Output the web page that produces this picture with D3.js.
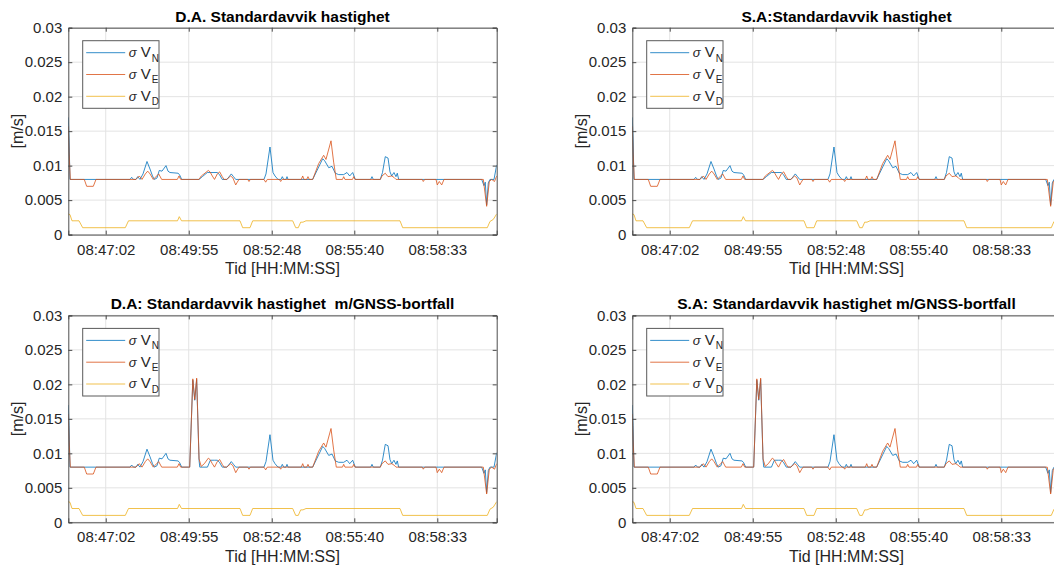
<!DOCTYPE html>
<html>
<head>
<meta charset="utf-8">
<script src="https://cdn.jsdelivr.net/npm/d3@7"></script>
<style>
  body { margin: 0; background: #fff; }
  text { font-family: "Liberation Sans", Arial, Helvetica, sans-serif; }
</style>
</head>
<body>
<div id="chart"></div>
<script>
// time axis: seconds after 08:45:44
const startClock = "08:45:44";
const endSeconds = 892.8;
const xTickLabels = ["08:47:02", "08:49:55", "08:52:48", "08:55:40", "08:58:33"];
const yTicks = [0, 0.005, 0.01, 0.015, 0.02, 0.025, 0.03];
const yTickLabels = ["0", "0.005", "0.01", "0.015", "0.02", "0.025", "0.03"];
const seriesNames = ["N", "E", "D"];

// sigma V_N [s, m/s]
const sigmaVN = [
  [0, 0.0170], [1.5, 0.0140], [3.5, 0.0080], [128.6, 0.0080], [132.1, 0.0083], [135.9, 0.0080],
  [141.1, 0.0080], [144.6, 0.0084], [149.4, 0.0080], [155.7, 0.0088], [164.0, 0.0106], [170.3, 0.0095],
  [175.5, 0.0085], [179.2, 0.0080], [184.8, 0.0082], [189.6, 0.0093], [195.3, 0.0092], [203.6, 0.0100],
  [207.8, 0.0092], [211.9, 0.0090], [228.6, 0.0089], [231.7, 0.0087], [236.3, 0.0080], [272.4, 0.0080],
  [279.3, 0.0084], [289.7, 0.0090], [310.5, 0.0090], [315.1, 0.0087], [320.9, 0.0080], [330.7, 0.0080],
  [339.7, 0.0088], [344.3, 0.0084], [348.9, 0.0080], [407.8, 0.0080], [412.0, 0.0088], [420.3, 0.0127],
  [426.6, 0.0090], [430.8, 0.0085], [437.0, 0.0080], [443.3, 0.0080], [446.0, 0.0084], [448.9, 0.0080],
  [453.7, 0.0080], [455.8, 0.0084], [457.8, 0.0080], [509.3, 0.0080], [521.8, 0.0098], [530.2, 0.0110],
  [534.3, 0.0107], [542.7, 0.0097], [549.6, 0.0099], [556.4, 0.0089], [563.5, 0.0087], [573.9, 0.0087],
  [580.8, 0.0090], [586.4, 0.0085], [592.7, 0.0090], [598.1, 0.0080], [630.2, 0.0080], [632.9, 0.0084],
  [635.6, 0.0080], [650.2, 0.0080], [654.8, 0.0090], [660.6, 0.0113], [666.3, 0.0111], [670.4, 0.0091],
  [674.0, 0.0085], [678.7, 0.0090], [682.9, 0.0084], [685.6, 0.0089], [688.5, 0.0080], [861.5, 0.0080],
  [866.3, 0.0071], [869.0, 0.0076], [871.9, 0.0043], [875.3, 0.0075], [878.8, 0.0080], [887.2, 0.0080],
  [892.8, 0.0101]
];

// sigma V_E
const sigmaVE = [
  [0, 0.0157], [1.5, 0.0120], [4.2, 0.0080], [33.3, 0.0080], [38.3, 0.0070], [52.1, 0.0070],
  [57.7, 0.0080], [141.1, 0.0080], [148.0, 0.0085], [153.6, 0.0080], [160.5, 0.0088], [165.5, 0.0092],
  [170.3, 0.0088], [177.1, 0.0080], [184.2, 0.0085], [188.4, 0.0088], [194.6, 0.0080], [227.2, 0.0080],
  [230.7, 0.0085], [234.2, 0.0080], [272.4, 0.0080], [277.2, 0.0085], [282.8, 0.0088], [291.8, 0.0093],
  [295.3, 0.0091], [300.1, 0.0085], [304.7, 0.0080], [310.5, 0.0088], [315.5, 0.0091], [320.9, 0.0084],
  [324.5, 0.0080], [330.1, 0.0080], [338.4, 0.0085], [343.2, 0.0082], [348.9, 0.0072], [352.2, 0.0076],
  [355.7, 0.0080], [373.9, 0.0080], [376.6, 0.0077], [379.3, 0.0080], [407.8, 0.0080], [411.3, 0.0076],
  [414.7, 0.0080], [439.7, 0.0080], [442.6, 0.0077], [445.3, 0.0080], [485.6, 0.0080], [488.5, 0.0085],
  [491.2, 0.0080], [496.9, 0.0080], [499.5, 0.0084], [502.2, 0.0080], [509.3, 0.0080], [521.8, 0.0103],
  [532.2, 0.0115], [537.0, 0.0109], [547.5, 0.0136], [553.0, 0.0105], [558.5, 0.0080], [571.4, 0.0080],
  [573.9, 0.0084], [576.6, 0.0080], [592.3, 0.0080], [594.8, 0.0084], [597.5, 0.0080], [650.2, 0.0080],
  [653.7, 0.0085], [660.6, 0.0089], [666.3, 0.0084], [674.0, 0.0085], [678.7, 0.0083], [682.9, 0.0080],
  [737.7, 0.0080], [739.8, 0.0077], [742.7, 0.0080], [766.3, 0.0080], [769.0, 0.0072], [773.2, 0.0077],
  [778.2, 0.0072], [783.0, 0.0080], [864.9, 0.0080], [871.9, 0.0041], [877.4, 0.0077], [882.4, 0.0080],
  [888.2, 0.0077], [892.8, 0.0085]
];

// sigma V_D
const sigmaVD = [
  [0, 0.0030], [3.5, 0.0029], [7.7, 0.0020], [22.3, 0.0020], [30.0, 0.0010], [118.8, 0.0010],
  [125.5, 0.0020], [227.6, 0.0020], [231.3, 0.0026], [235.9, 0.0020], [357.8, 0.0020], [363.4, 0.0010],
  [378.7, 0.0010], [384.3, 0.0020], [467.6, 0.0020], [473.9, 0.0010], [479.3, 0.0010], [484.3, 0.0018],
  [489.1, 0.0018], [495.4, 0.0020], [691.3, 0.0020], [696.9, 0.0010], [873.2, 0.0010], [878.8, 0.0019],
  [885.7, 0.0022], [892.8, 0.0030]
];

// GNSS outage segment (replaces the same time span in the runs above)
const outageVN = [
  [251, 0.0080], [253, 0.0080], [259.5, 0.0206], [263.5, 0.0177], [267.5, 0.0207], [272.5, 0.0090],
  [274, 0.0080], [290, 0.0080], [296, 0.0090], [305, 0.0090]
];
const outageVE = [
  [251, 0.0080], [253, 0.0080], [259.5, 0.0208], [263.5, 0.0178], [267.5, 0.0209], [272.5, 0.0092],
  [277, 0.0081], [283.5, 0.0085], [291.8, 0.0093]
];

const colors = ["#0072BD", "#D95319", "#EDB120"];

function withOutage(base, gap) {
  const a = gap[0][0], b = gap[gap.length - 1][0];
  return base.filter(d => d[0] < a || d[0] > b).concat(gap).sort((p, q) => p[0] - q[0]);
}

const toSec = s => { const p = s.split(":").map(Number); return p[0] * 3600 + p[1] * 60 + p[2]; };
const t0 = toSec(startClock);

const W = 1054, H = 568;
const pw = 428.4, ph = 206.9;
const panels = [
  {title: "D.A. Standardavvik hastighet", x: 68.3, y: 27.7, data: [sigmaVN, sigmaVE, sigmaVD]},
  {title: "S.A:Standardavvik hastighet", x: 632.3, y: 27.7, data: [sigmaVN, sigmaVE, sigmaVD]},
  {title: "D.A: Standardavvik hastighet  m/GNSS-bortfall", x: 68.3, y: 315.4,
    data: [withOutage(sigmaVN, outageVN), withOutage(sigmaVE, outageVE), sigmaVD]},
  {title: "S.A: Standardavvik hastighet m/GNSS-bortfall", x: 632.3, y: 315.4,
    data: [withOutage(sigmaVN, outageVN), withOutage(sigmaVE, outageVE), sigmaVD]}
];

const svg = d3.select("#chart").append("svg")
  .attr("width", W).attr("height", H)
  .style("display", "block");

const x = d3.scaleLinear().domain([0, endSeconds]).range([0, pw]);
const y = d3.scaleLinear().domain([0, 0.03]).range([ph, 0]);
const xTickVals = xTickLabels.map(s => toSec(s) - t0);

const line = d3.line().x(d => x(d[0])).y(d => y(d[1]));

panels.forEach((p, pi) => {
  const g = svg.append("g").attr("transform", `translate(${p.x},${p.y})`);

  g.append("rect").attr("width", pw).attr("height", ph).attr("fill", "#fff");

  // grid
  g.append("g").selectAll("line").data(xTickVals).join("line")
    .attr("x1", d => x(d)).attr("x2", d => x(d)).attr("y1", 0).attr("y2", ph)
    .attr("stroke", "#e3e3e3").attr("stroke-width", 1);
  g.append("g").selectAll("line").data(yTicks).join("line")
    .attr("y1", d => y(d)).attr("y2", d => y(d)).attr("x1", 0).attr("x2", pw)
    .attr("stroke", "#e3e3e3").attr("stroke-width", 1);

  // series
  g.append("clipPath").attr("id", "clip" + pi)
    .append("rect").attr("width", pw).attr("height", ph);
  const lines = g.append("g").attr("clip-path", `url(#clip${pi})`);
  p.data.forEach((s, i) => {
    lines.append("path").datum(s)
      .attr("d", line)
      .attr("fill", "none")
      .attr("stroke", colors[i])
      .attr("stroke-opacity", 0.8)
      .attr("stroke-width", 1)
      .attr("stroke-linejoin", "round");
  });

  // axes, ticks pointing inward
  const axisColor = "#4d4d4d";
  const bottom = g.append("g").attr("transform", `translate(0,${ph})`)
    .call(d3.axisBottom(x).tickValues(xTickVals).tickFormat((d, i) => xTickLabels[i])
      .tickSize(-4).tickPadding(9.5));
  const left = g.append("g")
    .call(d3.axisLeft(y).tickValues(yTicks).tickFormat((d, i) => yTickLabels[i])
      .tickSize(-4).tickPadding(6));
  const top = g.append("g")
    .call(d3.axisTop(x).tickValues(xTickVals).tickFormat("").tickSize(-4));
  const right = g.append("g").attr("transform", `translate(${pw},0)`)
    .call(d3.axisRight(y).tickValues(yTicks).tickFormat("").tickSize(-4));
  [bottom, left, top, right].forEach(a => {
    a.attr("font-size", null).attr("font-family", null);
    a.select(".domain").attr("stroke", axisColor);
    a.selectAll(".tick line").attr("stroke", axisColor);
    a.selectAll("text").attr("fill", "#262626").style("font-size", "15px");
  });

  // labels
  g.append("text")
    .attr("x", pw / 2).attr("y", -6)
    .attr("text-anchor", "middle")
    .style("font-size", "15.5px").style("font-weight", "bold")
    .style("white-space", "pre")
    .attr("fill", "#000")
    .text(p.title);
  g.append("text")
    .attr("x", pw / 2).attr("y", ph + 39.5)
    .attr("text-anchor", "middle")
    .style("font-size", "16px")
    .attr("fill", "#262626")
    .text("Tid [HH:MM:SS]");
  g.append("text")
    .attr("transform", `translate(-45,${ph / 2}) rotate(-90)`)
    .attr("text-anchor", "middle")
    .style("font-size", "16px")
    .attr("fill", "#262626")
    .text("[m/s]");

  // legend
  const lg = g.append("g").attr("transform", "translate(14.4,13)");
  lg.append("rect").attr("width", 76.3).attr("height", 67.6)
    .attr("fill", "#fff").attr("stroke", "#5a5a5a").attr("stroke-width", 1);
  seriesNames.forEach((n, i) => {
    const ly = 12 + i * 21.8;
    lg.append("line").attr("x1", 3.5).attr("x2", 42.5).attr("y1", ly).attr("y2", ly)
      .attr("stroke", colors[i]).attr("stroke-opacity", 0.8).attr("stroke-width", 1);
    const t = lg.append("text").attr("x", 46).attr("y", ly + 4.5).attr("fill", "#262626");
    t.append("tspan").text("σ").style("font-size", "13px").style("font-style", "italic");
    t.append("tspan").text("\u00a0V").style("font-size", "15px");
    t.append("tspan").text(n).style("font-size", "10px").attr("dy", 4.5).attr("dx", 1);
  });
});
</script>
</body>
</html>
